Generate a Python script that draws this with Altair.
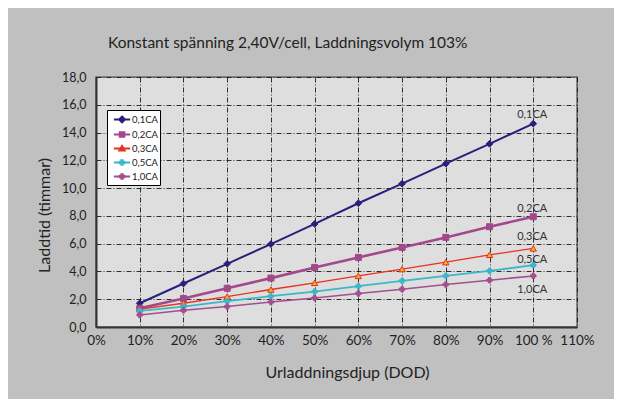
import altair as alt
import pandas as pd

dod = [10, 20, 30, 40, 50, 60, 70, 80, 90, 100]
series_names = ["0,1CA", "0,2CA", "0,3CA", "0,5CA", "1,0CA"]
v01 = [1.71, 3.13, 4.55, 5.97, 7.42, 8.91, 10.32, 11.76, 13.19, 14.64]
v02 = [1.35, 2.05, 2.79, 3.52, 4.29, 5.01, 5.73, 6.45, 7.22, 7.94]
v03 = [1.28, 1.71, 2.19, 2.70, 3.18, 3.68, 4.17, 4.67, 5.20, 5.66]
v05 = [1.16, 1.47, 1.86, 2.22, 2.55, 2.94, 3.32, 3.68, 4.04, 4.45]
v10 = [0.87, 1.20, 1.47, 1.80, 2.09, 2.41, 2.72, 3.06, 3.37, 3.68]
x_ticks = [0, 10, 20, 30, 40, 50, 60, 70, 80, 90, 100, 110]
y_ticks = [0, 2, 4, 6, 8, 10, 12, 14, 16, 18]

colors = ["#28207a", "#a3488a", "#e8311f", "#3bb7ca", "#a14f8f"]
marker_fill = ["#28207a", "#a3488a", "#f2b31e", "#3bb7ca", "#a14f8f"]
widths = [2, 2.6, 1.3, 1.8, 1.5]
markers = ["diamond", "square", "triangle-up", "cross", "cross"]
marker_sizes = [45, 36, 40, 30, 30]
label_dy = [-9, -8, -11, -5, 14]
legend_paths = [
    "M-0.4,0L2.1,0M0.85,-0.45L1.3,0L0.85,0.45L0.4,0Z",
    "M-0.4,0L2.1,0M0.5,-0.35L1.2,-0.35L1.2,0.35L0.5,0.35Z",
    "M-0.4,0L2.1,0M0.85,-0.4L1.25,0.3L0.45,0.3Z",
    "M-0.4,0L2.1,0M0.75,-0.35L0.95,-0.35L0.95,-0.1L1.2,-0.1L1.2,0.1L0.95,0.1L0.95,0.35L0.75,0.35L0.75,0.1L0.5,0.1L0.5,-0.1L0.75,-0.1Z",
    "M-0.4,0L2.1,0M0.75,-0.35L0.95,-0.35L0.95,-0.1L1.2,-0.1L1.2,0.1L0.95,0.1L0.95,0.35L0.75,0.35L0.75,0.1L0.5,0.1L0.5,-0.1L0.75,-0.1Z",
]

rows = []
for s, vals in zip(series_names, [v01, v02, v03, v05, v10]):
    for d, v in zip(dod, vals):
        rows.append({"dod": d, "tid": v, "serie": s})
df = pd.DataFrame(rows)

FONT = "Lato"

x = alt.X("dod:Q", scale=alt.Scale(domain=[0, 110], nice=False),
          axis=alt.Axis(values=x_ticks, title="Urladdningsdjup (DOD)",
                        labelExpr="datum.value == 100 ? '100 %' : datum.value + '%'",
                        labelOverlap=False, labelFlush=False, labelPadding=6, labelFontSize=13.5,
                        titleX=251, titleY=37, titleAnchor="middle"))
y = alt.Y("tid:Q", scale=alt.Scale(domain=[0, 18], nice=False),
          axis=alt.Axis(values=y_ticks, title="Laddtid (timmar)",
                        labelExpr="replace(format(datum.value, '.1f'), '.', ',')",
                        labelOverlap=False, labelFlush=False, labelPadding=10, labelFontSize=12.5,
                        titleX=-44, titleY=138, titleAnchor="middle"))

base = alt.Chart(df)

layers = []
for s, c, w in zip(series_names, colors, widths):
    layers.append(
        base.transform_filter(alt.datum.serie == s)
        .mark_line(color=c, strokeWidth=w)
        .encode(x=x, y=y)
    )
for s, c, f, m, sz in zip(series_names, colors, marker_fill, markers, marker_sizes):
    layers.append(
        base.transform_filter(alt.datum.serie == s)
        .mark_point(shape=m, filled=True, fill=f, stroke=c, strokeWidth=1, size=sz, opacity=1)
        .encode(x=x, y=y)
    )
for s, dy in zip(series_names, label_dy):
    layers.append(
        base.transform_filter((alt.datum.serie == s) & (alt.datum.dod == 100))
        .mark_text(dx=-1, dy=dy, font=FONT, fontSize=11, color="#333")
        .encode(x=x, y=y, text="serie:N")
    )

leg = alt.Legend(title=None, orient="none", legendX=11, legendY=33,
                 fillColor="white", strokeColor="black", padding=2,
                 rowPadding=0, symbolSize=169, symbolStrokeWidth=2,
                 symbolOpacity=1,
                 labelExpr="datum.label + '   '",
                 labelFontSize=9.5, labelColor="#222",
                 labelFont=FONT, labelOffset=8, cornerRadius=0)

legend_layer = base.transform_filter(alt.datum.dod < 0).mark_point(filled=True).encode(
    x=x, y=y,
    fill=alt.Fill("serie:N", scale=alt.Scale(domain=series_names, range=colors), legend=leg),
    stroke=alt.Stroke("serie:N", scale=alt.Scale(domain=series_names, range=colors), legend=leg),
    shape=alt.Shape("serie:N", scale=alt.Scale(domain=series_names, range=legend_paths), legend=leg),
)
layers.append(legend_layer)

chart = alt.layer(*layers).properties(
    width=481, height=250,
    autosize=alt.AutoSizeParams(type="none"),
    padding={"left": 88, "top": 69, "right": 37, "bottom": 72},
    background="#c0c0c0",
    title=alt.TitleParams("Konstant spänning 2,40V/cell, Laddningsvolym 103%",
                          anchor="start", frame="group", dx=12, offset=20,
                          font=FONT, fontSize=15.5, fontWeight="normal", color="#222"),
).configure_view(
    fill="#dedede", stroke="#6a6a6a", strokeWidth=1.5
).configure_axis(
    grid=True, gridColor="#111", gridDash=[5, 2, 1, 2], gridWidth=1, gridOpacity=0.85,
    ticks=False, domainColor="#333", domainWidth=2,
    labelFont=FONT, labelColor="#222",
    titleFont=FONT, titleFontSize=16, titleFontWeight="normal", titleColor="#222",
)

chart.save("out.html", embed_options={"renderer": "svg", "actions": False})
